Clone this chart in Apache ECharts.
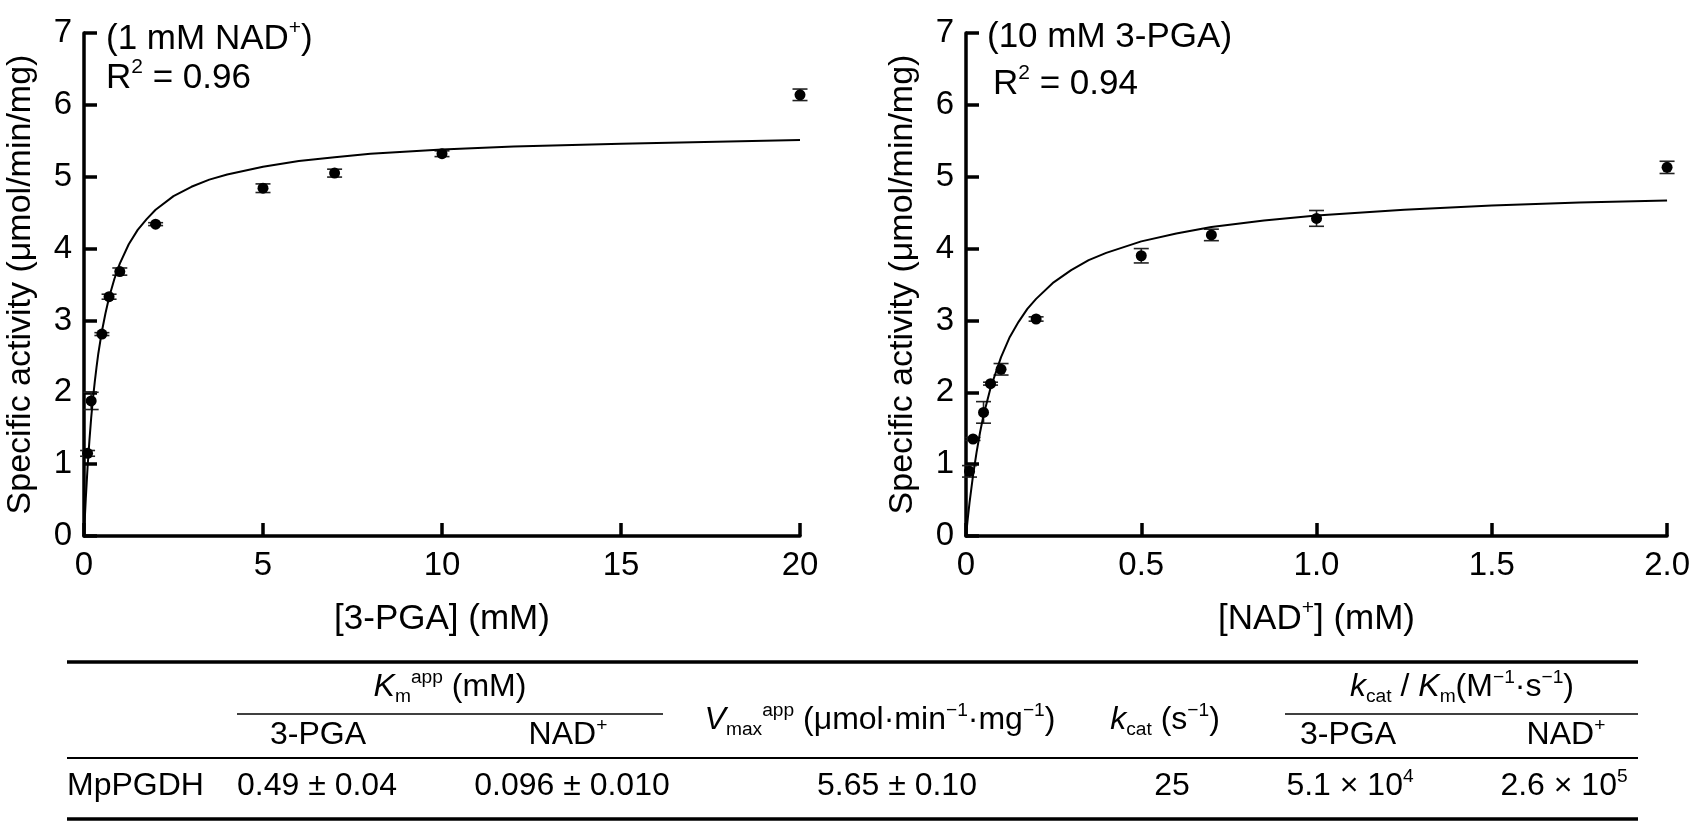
<!DOCTYPE html>
<html>
<head>
<meta charset="utf-8">
<script src="https://cdn.jsdelivr.net/npm/echarts@6/dist/echarts.min.js"></script>
<style>
html, body { margin: 0; padding: 0; background: #fff; }
#container { width: 1693px; height: 822px; }
</style>
</head>
<body>
<div id="container"></div>
<script>
// left panel: varying 3-PGA at 1 mM NAD+
let pgaConc = [0.1, 0.2, 0.5, 0.7, 1, 2, 5, 7, 10, 20];
let pgaAct  = [1.15, 1.88, 2.81, 3.33, 3.68, 4.34, 4.84, 5.05, 5.32, 6.14];
let pgaErr  = [0.04, 0.12, 0.02, 0.035, 0.05, 0.02, 0.06, 0.055, 0.04, 0.08];
// fitted curve
let pgaFitX = [0, 0.025, 0.05, 0.075, 0.1, 0.15, 0.2, 0.25, 0.3, 0.35, 0.4, 0.5, 0.6, 0.7, 0.85, 1,
               1.25, 1.5, 1.75, 2, 2.5, 3, 3.5, 4, 5, 6, 7, 8, 10, 12, 15, 20];
let pgaFitY = [0, 0.27, 0.52, 0.74, 0.96, 1.32, 1.64, 1.91, 2.14, 2.35, 2.54, 2.85, 3.10, 3.32, 3.58, 3.79,
               4.06, 4.26, 4.41, 4.54, 4.73, 4.86, 4.96, 5.03, 5.14, 5.22, 5.27, 5.32, 5.38, 5.42, 5.46, 5.51];

// right panel: varying NAD+ at 10 mM 3-PGA
let nadConc = [0.01, 0.02, 0.05, 0.07, 0.1, 0.2, 0.5, 0.7, 1.0, 2.0];
let nadAct  = [0.90, 1.35, 1.72, 2.12, 2.32, 3.02, 3.90, 4.19, 4.42, 5.13];
let nadErr  = [0.08, 0.02, 0.15, 0.02, 0.08, 0.03, 0.10, 0.08, 0.11, 0.085];
let nadFitX = [0, 0.005, 0.01, 0.02, 0.03, 0.04, 0.05, 0.07, 0.1, 0.125, 0.15, 0.175, 0.2, 0.25, 0.3,
               0.35, 0.4, 0.5, 0.6, 0.7, 0.85, 1.0, 1.25, 1.5, 1.75, 2.0];
let nadFitY = [0, 0.24, 0.46, 0.84, 1.16, 1.44, 1.68, 2.06, 2.49, 2.77, 2.98, 3.16, 3.30, 3.53, 3.70,
               3.84, 3.94, 4.10, 4.21, 4.30, 4.39, 4.46, 4.54, 4.60, 4.64, 4.67];

let pgaTicks = ['0', '5', '10', '15', '20'];
let nadTicks = ['0', '0.5', '1.0', '1.5', '2.0'];
let actTicks = ['0', '1', '2', '3', '4', '5', '6', '7'];

let pgaNote = ['(1 mM NAD{sup|+})', 'R{sup|2} = 0.96'];
let nadNote = ['(10 mM 3-PGA)', 'R{sup|2} = 0.94'];

// table
let rowLabel = 'MpPGDH';
let groupHeads = ['{i|K}{sub|m}{sup|app}{n| (mM)}', '{i|k}{sub|cat}{n| / }{i|K}{sub|m}{n|(M}{sup|−1}{n|·s}{sup|−1}{n|)}'];
let subHeads = ['3-PGA', 'NAD{sup|+}', '3-PGA', 'NAD{sup|+}'];
let singleHeads = ['{i|V}{sub|max}{sup|app}{n| (μmol·min}{sup|−1}{n|·mg}{sup|−1}{n|)}', '{i|k}{sub|cat}{n| (s}{sup|−1}{n|)}'];
let rowValues = ['0.49 ± 0.04', '0.096 ± 0.010', '5.65 ± 0.10', '25', '5.1 × 10{sup|4}', '2.6 × 10{sup|5}'];

const FONT = '"Liberation Sans", Arial, sans-serif';

function richSet(size) {
    return {
        n:   { fontSize: size, fontFamily: FONT, color: '#000', lineHeight: size * 1.2 },
        i:   { fontSize: size, fontFamily: FONT, color: '#000', lineHeight: size * 1.2, fontStyle: 'italic' },
        sup: { fontSize: size * 0.6, fontFamily: FONT, color: '#000', lineHeight: size * 0.6, verticalAlign: 'top' },
        sub: { fontSize: size * 0.6, fontFamily: FONT, color: '#000', lineHeight: size * 0.6, verticalAlign: 'bottom' }
    };
}

// plain parts of a rich string need the n style too
function wrap(s) {
    return s.split(/(\{[a-z]+\|[^}]*\})/).filter(p => p).map(p => p[0] === '{' ? p : '{n|' + p + '}').join('');
}

function txt(x, y, s, size, align) {
    return {
        type: 'text', x: x, y: y, silent: true,
        style: { text: wrap(s), rich: richSet(size), align: align || 'center', verticalAlign: 'middle' }
    };
}

function hline(x1, x2, y, w) {
    return { type: 'line', silent: true, shape: { x1: x1, y1: y, x2: x2, y2: y }, style: { stroke: '#000', lineWidth: w } };
}

function errBars(params, api) {
    let x = api.value(0), y = api.value(1), e = api.value(2);
    let hi = api.coord([x, y + e]);
    let lo = api.coord([x, y - e]);
    let w = 7.5;
    let st = { stroke: '#222', lineWidth: 1.6 };
    return {
        type: 'group',
        children: [
            { type: 'line', shape: { x1: hi[0], y1: hi[1], x2: lo[0], y2: lo[1] }, style: st },
            { type: 'line', shape: { x1: hi[0] - w, y1: hi[1], x2: hi[0] + w, y2: hi[1] }, style: st },
            { type: 'line', shape: { x1: lo[0] - w, y1: lo[1], x2: lo[0] + w, y2: lo[1] }, style: st }
        ]
    };
}

function xAxisOf(idx, max, step, ticks, name) {
    return {
        gridIndex: idx, type: 'value', min: 0, max: max, interval: step,
        name: wrap(name), nameLocation: 'middle', nameGap: 62,
        nameTextStyle: { rich: richSet(35) },
        axisLine: { onZero: false, lineStyle: { color: '#000', width: 3.5 } },
        axisTick: { inside: true, length: 13, lineStyle: { color: '#000', width: 3.5 } },
        axisLabel: { margin: 13, fontSize: 33, fontFamily: FONT, color: '#000',
            formatter: v => ticks[Math.round(v / step)] },
        splitLine: { show: false }
    };
}

function yAxisOf(idx) {
    return {
        gridIndex: idx, type: 'value', min: 0, max: 7, interval: 1,
        name: 'Specific activity (μmol/min/mg)', nameLocation: 'middle', nameGap: 46,
        nameTextStyle: { fontSize: 34, fontFamily: FONT, color: '#000' },
        axisLine: { onZero: false, lineStyle: { color: '#000', width: 3.5 } },
        axisTick: { inside: true, length: 13, lineStyle: { color: '#000', width: 3.5 } },
        axisLabel: { margin: 12, fontSize: 33, fontFamily: FONT, color: '#000',
            formatter: v => actTicks[Math.round(v)] },
        splitLine: { show: false }
    };
}

function panelSeries(idx, conc, act, err, fx, fy) {
    return [
        {
            type: 'custom', xAxisIndex: idx, yAxisIndex: idx,
            renderItem: errBars, encode: { x: 0, y: 1 }, z: 2,
            data: conc.map((c, i) => [c, act[i], err[i]])
        },
        {
            type: 'line', xAxisIndex: idx, yAxisIndex: idx, showSymbol: false, z: 3,
            lineStyle: { color: '#000', width: 2 },
            data: fx.map((x, i) => [x, fy[i]])
        },
        {
            type: 'scatter', xAxisIndex: idx, yAxisIndex: idx, symbol: 'circle', symbolSize: 11, z: 4,
            itemStyle: { color: '#000', opacity: 1 },
            data: conc.map((c, i) => [c, act[i]])
        }
    ];
}

let dom = document.getElementById('container');
let chart = echarts.init(dom, null, { renderer: 'canvas' });

// table drawing
let tableG = [
    hline(67, 1638, 662, 3.5),
    hline(237, 663, 714, 1.5),
    hline(1285, 1638, 714, 1.5),
    hline(67, 1638, 758, 2),
    hline(67, 1638, 819, 3.5),
    txt(450, 687, groupHeads[0], 32),
    txt(1462, 687, groupHeads[1], 32),
    txt(318, 735, subHeads[0], 32),
    txt(568, 735, subHeads[1], 32),
    txt(1348, 735, subHeads[2], 32),
    txt(1566, 735, subHeads[3], 32),
    txt(880, 720, singleHeads[0], 32),
    txt(1165, 720, singleHeads[1], 32),
    txt(67, 786, rowLabel, 32, 'left')
];
let valX = [317, 572, 897, 1172, 1350, 1564];
rowValues.forEach((v, i) => tableG.push(txt(valX[i], 786, v, 32)));

let notes = [
    txt(106, 39, pgaNote[0], 35, 'left'),
    txt(106, 78, pgaNote[1], 35, 'left'),
    txt(987, 37, nadNote[0], 35, 'left'),
    txt(993, 84, nadNote[1], 35, 'left')
];

chart.setOption({
    animation: false,
    backgroundColor: '#fff',
    grid: [
        { left: 84, top: 33, width: 716, height: 503 },
        { left: 966, top: 33, width: 702, height: 503 }
    ],
    xAxis: [
        xAxisOf(0, 20, 5, pgaTicks, '[3-PGA] (mM)'),
        xAxisOf(1, 2, 0.5, nadTicks, '[NAD{sup|+}] (mM)')
    ],
    yAxis: [yAxisOf(0), yAxisOf(1)],
    series: panelSeries(0, pgaConc, pgaAct, pgaErr, pgaFitX, pgaFitY)
        .concat(panelSeries(1, nadConc, nadAct, nadErr, nadFitX, nadFitY)),
    graphic: notes.concat(tableG)
});
</script>
</body>
</html>
